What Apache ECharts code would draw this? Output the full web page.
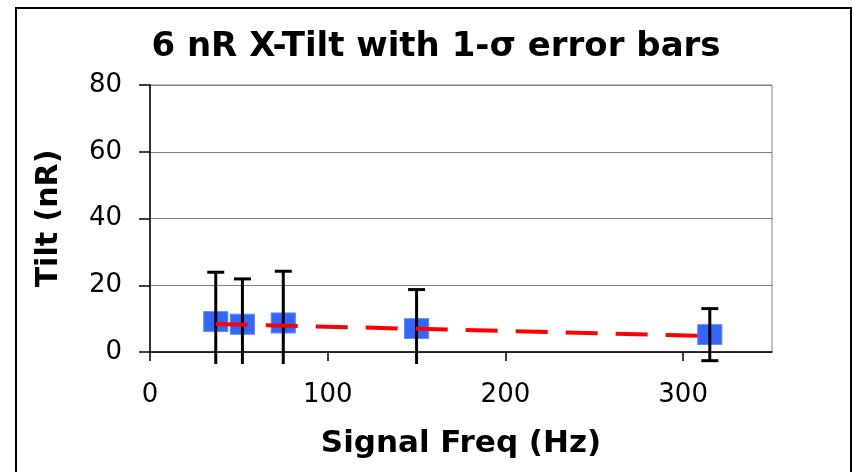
<!DOCTYPE html>
<html>
<head>
<meta charset="utf-8">
<script src="https://cdn.jsdelivr.net/npm/echarts@6/dist/echarts.min.js"></script>
<style>
  html, body { margin: 0; padding: 0; background: #fff; }
  #chart { width: 854px; height: 472px; }
</style>
</head>
<body>
<div id="chart"></div>
<script>
// Measured tilt per signal frequency, with 1-sigma uncertainties
const freqHz  = [37, 52, 75, 150, 315];
const tiltNr  = [9.1, 8.3, 8.7, 7.0, 5.2];
const sigmaNr = [14.8, 13.6, 15.5, 11.7, 7.8];
// Straight-line fit through the measurements (endpoints)
const fitFreq = [37, 315];
const fitTilt = [8.4, 4.8];

const yTicks = [0, 20, 40, 60, 80];
const xTicks = [0, 100, 200, 300];

const FONT = 'DejaVu Sans';
const chart = echarts.init(document.getElementById('chart'), null, { renderer: 'canvas' });

const option = {
  backgroundColor: '#ffffff',
  animation: false,
  title: {
    text: '6 nR X-Tilt with 1-σ error bars',
    left: 431, top: 25, textAlign: 'center',
    textStyle: { fontFamily: FONT, fontWeight: 'bold', fontSize: 34, color: '#000' }
  },
  graphic: [{
    type: 'rect', silent: true, z: -1,
    shape: { x: 16, y: 8, width: 835, height: 480 },
    style: { fill: 'none', stroke: '#000', lineWidth: 2 }
  }],
  grid: { left: 150, right: 82, top: 85, bottom: 120, show: true, borderColor: '#808080', borderWidth: 1, backgroundColor: 'transparent' },
  xAxis: {
    type: 'value', min: 0, max: 350, interval: 100,
    name: 'Signal Freq (Hz)', nameLocation: 'middle', nameGap: 76,
    nameTextStyle: { fontFamily: FONT, fontWeight: 'bold', fontSize: 31, color: '#000' },
    axisLine: { show: true, onZero: false, lineStyle: { color: '#000', width: 1.5 } },
    axisTick: { show: true, length: 9, customValues: xTicks, lineStyle: { color: '#000', width: 1.5 } },
    axisLabel: {
      fontFamily: FONT, fontSize: 26, color: '#000', margin: 30,
      customValues: xTicks
    },
    splitLine: { show: false }
  },
  yAxis: {
    type: 'value', min: 0, max: 80, interval: 20,
    name: 'Tilt (nR)', nameLocation: 'middle', nameGap: 86, nameRotate: 90,
    nameTextStyle: { fontFamily: FONT, fontWeight: 'bold', fontSize: 30, color: '#000' },
    axisLine: { show: true, lineStyle: { color: '#000', width: 1.5 } },
    axisTick: { show: true, length: 11, lineStyle: { color: '#000', width: 1.5 } },
    axisLabel: {
      fontFamily: FONT, fontSize: 26, color: '#000', margin: 28,
      formatter: v => (yTicks.indexOf(v) >= 0 ? String(v) : '')
    },
    splitLine: { show: true, lineStyle: { color: '#808080', width: 1 } }
  },
  series: [
    {
      type: 'scatter', name: 'tilt', z: 2,
      symbol: 'rect', symbolSize: [24, 20],
      itemStyle: { color: '#3366ff', opacity: 1, borderColor: '#5a85ff', borderWidth: 1 },
      data: freqHz.map((f, i) => [f, tiltNr[i]])
    },
    {
      type: 'custom', name: 'sigma', z: 3, clip: false,
      data: freqHz.map((f, i) => [f, tiltNr[i], sigmaNr[i]]),
      renderItem: function (params, api) {
        const x = api.value(0), y = api.value(1), s = api.value(2);
        const top = api.coord([x, y + s]);
        const bot = api.coord([x, y - s]);
        const floorY = api.coord([0, 0])[1] + 12;
        const capHalf = 8.5;
        const style = { stroke: '#000', lineWidth: 3 };
        const children = [
          { type: 'line', shape: { x1: top[0], y1: top[1], x2: top[0], y2: Math.min(bot[1], floorY) }, style },
          { type: 'line', shape: { x1: top[0] - capHalf, y1: top[1], x2: top[0] + capHalf, y2: top[1] }, style }
        ];
        if (bot[1] <= floorY) {
          children.push({ type: 'line', shape: { x1: bot[0] - capHalf, y1: bot[1], x2: bot[0] + capHalf, y2: bot[1] }, style });
        }
        return { type: 'group', children };
      }
    },
    {
      type: 'line', name: 'fit', z: 4,
      symbol: 'none', silent: true,
      lineStyle: { color: '#ff0000', width: 4, type: [32, 18] },
      data: fitFreq.map((f, i) => [f, fitTilt[i]])
    }
  ]
};

chart.setOption(option);
</script>
</body>
</html>
